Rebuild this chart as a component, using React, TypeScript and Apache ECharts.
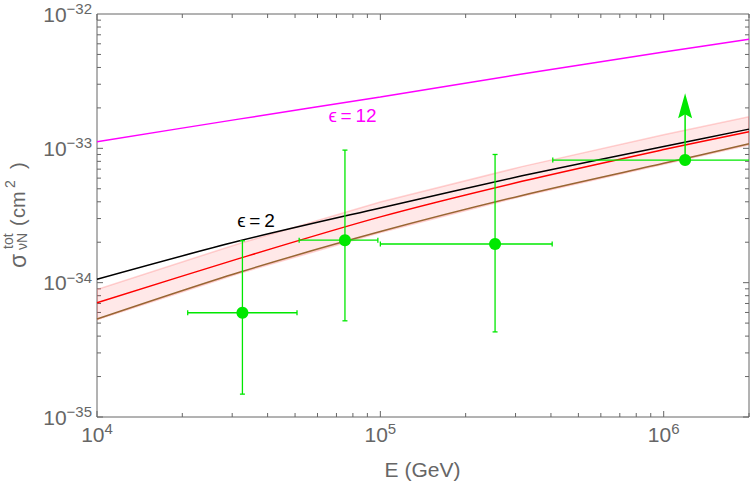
import React, { useEffect, useRef } from 'react';
import * as echarts from 'echarts';

// ---- data (cross sections in cm^2, energies in GeV) ----
const Y_UNIT = 1e-35; // values are plotted in units of 1e-35 cm^2
const X_MIN = 1e4;
const X_MAX = 2e6;
const Y_MIN = 1e-35;
const Y_MAX = 1e-32;

const curveEnergies = [1e4, 3.162e4, 1e5, 3.162e5, 1e6, 2e6];
const sigmaEps12 = [1.12e-33, 1.65e-33, 2.41e-33, 3.57e-33, 5.21e-33, 6.49e-33];
const sigmaEps2 = [1.06e-34, 2.04e-34, 3.6e-34, 6.24e-34, 1.03e-33, 1.39e-33];
const sigmaCentral = [7.08e-35, 1.51e-34, 3.09e-34, 5.68e-34, 9.79e-34, 1.33e-33];
const sigmaBrown = [5.36e-35, 1.19e-34, 2.4e-34, 4.46e-34, 7.73e-34, 1.08e-33];
const bandUpper = [8.9e-35, 1.95e-34, 3.98e-34, 7.31e-34, 1.26e-33, 1.72e-33];
const bandLower = [5.3e-35, 1.17e-34, 2.36e-34, 4.4e-34, 7.6e-34, 1.06e-33];

const dataE = [3.26e4, 7.5e4, 2.54e5, 1.19e6];
const dataELow = [2.09e4, 5.17e4, 1.0e5, 4.06e5];
const dataEHigh = [5.08e4, 9.8e4, 4.04e5, 3.0e6];
const dataSigma = [5.97e-35, 2.07e-34, 1.94e-34, 8.18e-34];
const dataSigmaLow: (number | null)[] = [1.48e-35, 5.2e-35, 4.3e-35, null];
const dataSigmaHigh: (number | null)[] = [2.05e-34, 9.7e-34, 9.0e-34, null];
const lowerLimitTop: (number | null)[] = [null, null, null, 2.57e-33];

const xDecades = [4, 5, 6];
const yDecades = [-35, -34, -33];
const minorMultipliers = [1, 2, 3, 4, 5, 6, 7, 8, 9];

const FONT = '"Liberation Sans", "DejaVu Sans", sans-serif';
const AXIS_COLOR = '#666666';
const GREEN = '#00e800';

const u = (v: number) => v / Y_UNIT;

function isPow10(v: number) {
  const l = Math.log10(v);
  return Math.abs(l - Math.round(l)) < 1e-6;
}

export default function App() {
  const ref = useRef<HTMLDivElement>(null);

  useEffect(() => {
    if (!ref.current) return;
    const chart = echarts.init(ref.current, null, { renderer: 'svg' });

    const xTicks: number[][] = [];
    xDecades.forEach((d) =>
      minorMultipliers.forEach((m) => {
        const v = m * Math.pow(10, d);
        if (v <= X_MAX * 1.0001) xTicks.push([v, u(Y_MIN), m === 1 ? 1 : 0]);
      })
    );
    const yTicks: number[][] = [];
    yDecades.forEach((d) =>
      minorMultipliers.forEach((m) => {
        const v = m * Math.pow(10, d);
        yTicks.push([X_MIN, u(v), m === 1 ? 1 : 0]);
      })
    );

    const lineSeries = (name: string, vals: number[], color: string, width = 1.5) => ({
      name,
      type: 'line',
      data: curveEnergies.map((e, i) => [e, u(vals[i])]),
      showSymbol: false,
      smooth: 0.3,
      lineStyle: { color, width },
      silent: true,
      z: 3,
    });

    const richLabel = {
      b: { fontSize: 21, lineHeight: 26, color: AXIS_COLOR, fontFamily: FONT },
      s: { fontSize: 15, verticalAlign: 'top', color: AXIS_COLOR, fontFamily: FONT },
    };

    const t = (text: string, x: number, y: number, fontSize: number) => ({
      type: 'text',
      x,
      y,
      style: { text, fontSize, fontFamily: FONT, fill: AXIS_COLOR, verticalAlign: 'middle' },
    });

    const option: any = {
      animation: false,
      grid: {
        left: 97,
        right: 5,
        top: 14,
        bottom: 66,
        show: true,
        borderColor: AXIS_COLOR,
        borderWidth: 1,
        backgroundColor: 'transparent',
      },
      xAxis: {
        type: 'log',
        logBase: 10,
        min: X_MIN,
        max: X_MAX,
        axisLine: { show: false },
        axisTick: { show: false },
        splitLine: { show: false },
        minorTick: { show: false },
        axisLabel: {
          margin: 4,
          showMinLabel: true,
          showMaxLabel: true,
          formatter: (v: number) =>
            isPow10(v) ? `{b|10}{s|${Math.round(Math.log10(v))}}` : '',
          rich: richLabel,
        },
      },
      yAxis: {
        type: 'log',
        logBase: 10,
        min: u(Y_MIN),
        max: u(Y_MAX),
        axisLine: { show: false },
        axisTick: { show: false },
        splitLine: { show: false },
        axisLabel: {
          margin: 5,
          showMinLabel: true,
          showMaxLabel: true,
          formatter: (v: number) => {
            if (!isPow10(v)) return '';
            const exp = Math.round(Math.log10(v * Y_UNIT));
            return `{b|10}{s|\u2212${-exp}}`;
          },
          rich: richLabel,
        },
      },
      graphic: [
        {
          type: 'group',
          x: 25,
          y: 268,
          rotation: Math.PI / 2,
          children: [
            t('σ', 0, -7.5, 23),
            t('tot', 19, -16.6, 14),
            t('νN', 18, -2.6, 14),
            t('(', 42, -6.6, 20),
            t('cm', 50, -6.6, 20),
            t('2', 80, -14.6, 14),
            t(')', 99, -6.6, 20),
          ],
        },
        {
          type: 'text',
          x: 422.5,
          y: 469,
          style: { text: 'E (GeV)', fontSize: 21, fontFamily: FONT, fill: AXIS_COLOR, align: 'center', verticalAlign: 'middle' },
        },
        {
          type: 'text',
          x: 352.5,
          y: 115,
          z: 10,
          style: { text: 'ϵ\u2009=\u200912', fontSize: 19, fontFamily: FONT, fill: '#ff00ff', align: 'center', verticalAlign: 'middle' },
        },
        {
          type: 'text',
          x: 256,
          y: 220,
          z: 10,
          style: { text: 'ϵ\u2009=\u20092', fontSize: 19, fontFamily: FONT, fill: '#000000', align: 'center', verticalAlign: 'middle' },
        },
      ],
      series: [
        // frame ticks on bottom and top
        {
          type: 'custom',
          silent: true,
          data: xTicks,
          encode: { x: 0, y: 1 },
          z: 1,
          renderItem: (params: any, api: any) => {
            const v = api.value(0);
            const len = api.value(2) === 1 ? 6 : 4;
            const b = api.coord([v, u(Y_MIN)]);
            const tp = api.coord([v, u(Y_MAX)]);
            return {
              type: 'group',
              children: [
                { type: 'line', shape: { x1: b[0], y1: b[1], x2: b[0], y2: b[1] - len }, style: { stroke: AXIS_COLOR, lineWidth: 1 } },
                { type: 'line', shape: { x1: tp[0], y1: tp[1], x2: tp[0], y2: tp[1] + len }, style: { stroke: AXIS_COLOR, lineWidth: 1 } },
              ],
            };
          },
        },
        // frame ticks on left and right
        {
          type: 'custom',
          silent: true,
          data: yTicks,
          encode: { x: 0, y: 1 },
          z: 1,
          renderItem: (params: any, api: any) => {
            const v = api.value(1);
            const len = api.value(2) === 1 ? 6 : 4;
            const l = api.coord([X_MIN, v]);
            const r = api.coord([X_MAX, v]);
            return {
              type: 'group',
              children: [
                { type: 'line', shape: { x1: l[0], y1: l[1], x2: l[0] + len, y2: l[1] }, style: { stroke: AXIS_COLOR, lineWidth: 1 } },
                { type: 'line', shape: { x1: r[0], y1: r[1], x2: r[0] - len, y2: r[1] }, style: { stroke: AXIS_COLOR, lineWidth: 1 } },
              ],
            };
          },
        },
        // uncertainty band
        {
          type: 'custom',
          silent: true,
          clip: true,
          z: 2,
          data: [[curveEnergies[0], u(bandLower[0])]],
          encode: { x: 0, y: 1 },
          renderItem: (params: any, api: any) => {
            const pts: number[][] = [];
            curveEnergies.forEach((e, i) => pts.push(api.coord([e, u(bandUpper[i])])));
            for (let i = curveEnergies.length - 1; i >= 0; i--) pts.push(api.coord([curveEnergies[i], u(bandLower[i])]));
            return {
              type: 'polygon',
              shape: { points: pts },
              style: { fill: 'rgba(255,0,0,0.09)', stroke: 'rgba(255,110,110,0.3)', lineWidth: 1.5 },
            };
          },
        },
        lineSeries('brown', sigmaBrown, '#996633'),
        lineSeries('central', sigmaCentral, '#ff0000'),
        lineSeries('eps2', sigmaEps2, '#000000'),
        lineSeries('eps12', sigmaEps12, '#ff00ff'),
        // data points with error bars
        {
          type: 'custom',
          silent: true,
          clip: true,
          z: 5,
          data: dataE.map((e, i) => [e, u(dataSigma[i])]),
          encode: { x: 0, y: 1 },
          renderItem: (params: any, api: any) => {
            const i = params.dataIndex;
            const yv = u(dataSigma[i]);
            const c = api.coord([dataE[i], yv]);
            const xl = api.coord([dataELow[i], yv]);
            const xh = api.coord([dataEHigh[i], yv]);
            const st = { stroke: GREEN, lineWidth: 1.3 };
            const children: any[] = [
              { type: 'line', shape: { x1: xl[0], y1: c[1], x2: xh[0], y2: c[1] }, style: st },
              { type: 'line', shape: { x1: xl[0], y1: c[1] - 2.5, x2: xl[0], y2: c[1] + 2.5 }, style: st },
              { type: 'line', shape: { x1: xh[0], y1: c[1] - 2.5, x2: xh[0], y2: c[1] + 2.5 }, style: st },
            ];
            const lo = dataSigmaLow[i];
            const hi = dataSigmaHigh[i];
            if (lo != null && hi != null) {
              const yl = api.coord([dataE[i], u(lo)]);
              const yh = api.coord([dataE[i], u(hi)]);
              children.push(
                { type: 'line', shape: { x1: c[0], y1: yl[1], x2: c[0], y2: yh[1] }, style: st },
                { type: 'line', shape: { x1: c[0] - 2.5, y1: yl[1], x2: c[0] + 2.5, y2: yl[1] }, style: st },
                { type: 'line', shape: { x1: c[0] - 2.5, y1: yh[1], x2: c[0] + 2.5, y2: yh[1] }, style: st }
              );
            }
            const top = lowerLimitTop[i];
            if (top != null) {
              const tp = api.coord([dataE[i], u(top)]);
              children.push(
                { type: 'line', shape: { x1: c[0], y1: c[1], x2: c[0], y2: tp[1] + 20 }, style: { stroke: GREEN, lineWidth: 1.5 } },
                {
                  type: 'polygon',
                  shape: { points: [[tp[0], tp[1]], [tp[0] - 7, tp[1] + 25], [tp[0], tp[1] + 21], [tp[0] + 7, tp[1] + 25]] },
                  style: { fill: GREEN },
                }
              );
            }
            children.push({ type: 'circle', shape: { cx: c[0], cy: c[1], r: 6 }, style: { fill: GREEN } });
            return { type: 'group', children };
          },
        },
      ],
    };

    chart.setOption(option);
    return () => chart.dispose();
  }, []);

  return (
    <div
      ref={ref}
      style={{ position: 'fixed', left: 0, top: 0, width: 754, height: 483, background: '#ffffff' }}
    />
  );
}
